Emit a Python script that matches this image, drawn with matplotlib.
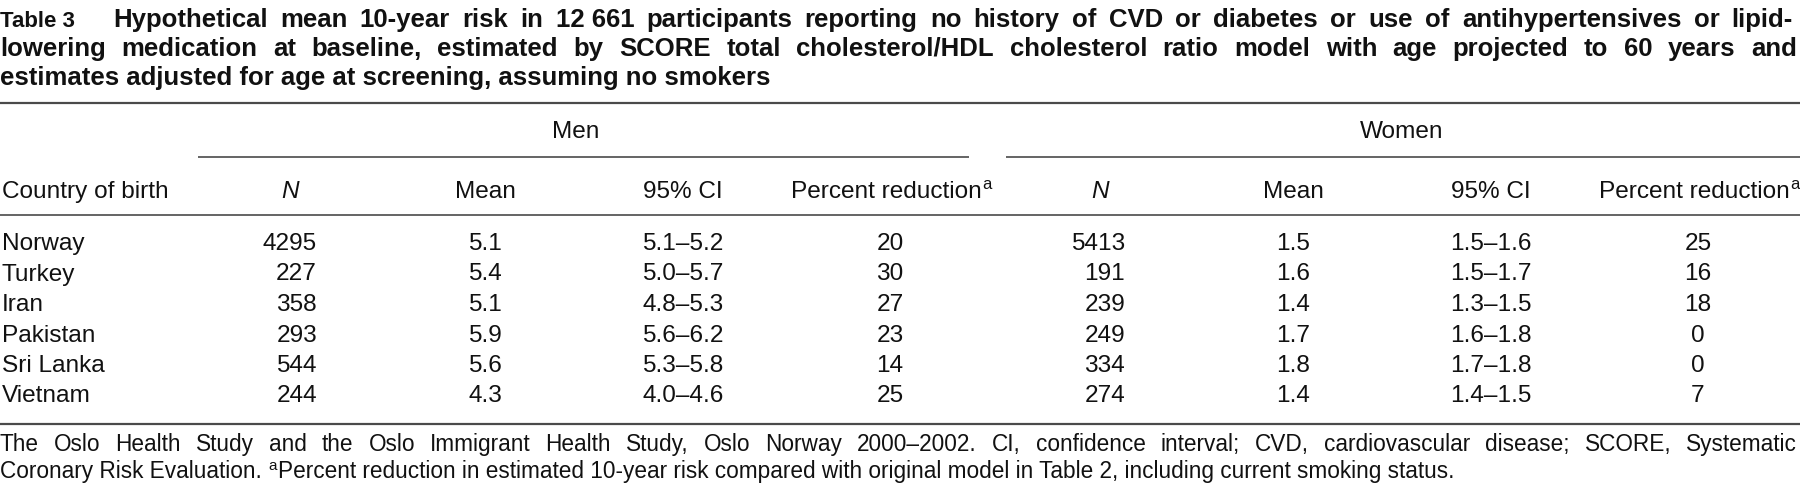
import matplotlib
matplotlib.use("Agg")
import matplotlib.pyplot as plt

plt.rcParams['font.family'] = ['Liberation Sans', 'DejaVu Sans']

# table content
countries = ["Norway", "Turkey", "Iran", "Pakistan", "Sri Lanka", "Vietnam"]
men_n = [4295, 227, 358, 293, 544, 244]
men_mean = ["5.1", "5.4", "5.1", "5.9", "5.6", "4.3"]
men_ci = ["5.1\u20135.2", "5.0\u20135.7", "4.8\u20135.3", "5.6\u20136.2", "5.3\u20135.8", "4.0\u20134.6"]
men_pct = [20, 30, 27, 23, 14, 25]
women_n = [5413, 191, 239, 249, 334, 274]
women_mean = ["1.5", "1.6", "1.4", "1.7", "1.8", "1.4"]
women_ci = ["1.5\u20131.6", "1.5\u20131.7", "1.3\u20131.5", "1.6\u20131.8", "1.7\u20131.8", "1.4\u20131.5"]
women_pct = [25, 16, 18, 0, 0, 7]

title_label = "Table 3"
title_lines = [
    "Hypothetical mean 10-year risk in 12 661 participants reporting no history of CVD or diabetes or use of antihypertensives or lipid-",
    "lowering medication at baseline, estimated by SCORE total cholesterol/HDL cholesterol ratio model with age projected to 60 years and",
    "estimates adjusted for age at screening, assuming no smokers",
]
foot1 = ("The Oslo Health Study and the Oslo Immigrant Health Study, Oslo Norway 2000\u20132002. "
         "CI, confidence interval; CVD, cardiovascular disease; SCORE, Systematic")
foot2a = "Coronary Risk Evaluation. "
foot2b = "Percent reduction in estimated 10-year risk compared with original model in Table 2, including current smoking status."

TXT = '#111111'
RULE = '#4a4a4a'
FS = 17.6     # body
FT = 18.5     # title
FF = 16.3     # footnote

fig = plt.figure(figsize=(18, 4.95), dpi=100)
ax = fig.add_axes([0, 0, 1, 1])
ax.set_xlim(0, 1800)
ax.set_ylim(495, 0)
ax.axis('off')
renderer = fig.canvas.get_renderer()


def width(t):
    return t.get_window_extent(renderer).width


def justify(words, y, x0, x1, **kw):
    texts = [ax.text(0, y, w, va='baseline', ha='left', color=TXT, **kw) for w in words]
    ws = [width(t) for t in texts]
    gap = (x1 - x0 - sum(ws)) / (len(words) - 1)
    x = x0
    for t, w in zip(texts, ws):
        t.set_x(x)
        x += w + gap


# title
ty = [27, 56, 85]
ax.text(0, ty[0], title_label, fontsize=16, fontweight='bold', va='baseline', color=TXT)
w1 = title_lines[0].replace("12 661", "12\u00a0661").split(" ")
w1 = [w.replace("\u00a0", " ") for w in w1]
justify(w1, ty[0], 113, 1793, fontsize=FT, fontweight='bold')
justify(title_lines[1].split(" "), ty[1], 0, 1797, fontsize=FT, fontweight='bold')
ax.text(0, ty[2], title_lines[2], fontsize=FT, fontweight='bold', va='baseline', color=TXT)

# rules
ax.hlines([102.5, 424], 0, 1800, color=RULE, lw=1.6)
ax.hlines(215, 0, 1800, color=RULE, lw=1.2)
ax.hlines(157, 198, 969, color=RULE, lw=1.2)
ax.hlines(157, 1006, 1800, color=RULE, lw=1.2)

# group headers
ax.text(576, 138, "Men", fontsize=FS, ha='center', va='baseline', color=TXT)
ax.text(1402, 138, "Women", fontsize=FS, ha='center', va='baseline', color=TXT)

# column headers
hy = 198
ax.text(2, hy, "Country of birth", fontsize=FS, va='baseline', color=TXT)
for xn, xm, xc, xp in [(290, 485, 683, 886), (1100, 1293, 1491, 1694)]:
    ax.text(xn, hy, "N", fontsize=FS, style='italic', ha='center', va='baseline', color=TXT)
    ax.text(xm, hy, "Mean", fontsize=FS, ha='center', va='baseline', color=TXT)
    ax.text(xc, hy, "95% CI", fontsize=FS, ha='center', va='baseline', color=TXT)
    t = ax.text(xp, hy, "Percent reduction", fontsize=FS, ha='center', va='baseline', color=TXT)
    ax.text(xp + width(t) / 2 + 1, hy - 9, "a", fontsize=12, va='baseline', color=TXT)

# body rows
row_y = [250 + 30.5 * i for i in range(len(countries))]
for i, y in enumerate(row_y):
    ax.text(2, y, countries[i], fontsize=FS, va='baseline', color=TXT)
    ax.text(317, y, str(men_n[i]), fontsize=FS, ha='right', va='baseline', color=TXT)
    ax.text(485, y, men_mean[i], fontsize=FS, ha='center', va='baseline', color=TXT)
    ax.text(683, y, men_ci[i], fontsize=FS, ha='center', va='baseline', color=TXT)
    ax.text(890, y, str(men_pct[i]), fontsize=FS, ha='center', va='baseline', color=TXT)
    ax.text(1125, y, str(women_n[i]), fontsize=FS, ha='right', va='baseline', color=TXT)
    ax.text(1293, y, women_mean[i], fontsize=FS, ha='center', va='baseline', color=TXT)
    ax.text(1491, y, women_ci[i], fontsize=FS, ha='center', va='baseline', color=TXT)
    ax.text(1698, y, str(women_pct[i]), fontsize=FS, ha='center', va='baseline', color=TXT)

# footnote
justify(foot1.split(" "), 451, 0, 1797, fontsize=FF)
t = ax.text(0, 478, foot2a, fontsize=FF, va='baseline', color=TXT)
xa = width(t)
s = ax.text(xa, 470, "a", fontsize=11, va='baseline', color=TXT)
ax.text(xa + width(s) + 1, 478, foot2b, fontsize=FF, va='baseline', color=TXT)

fig.savefig('out.png', dpi=100)
